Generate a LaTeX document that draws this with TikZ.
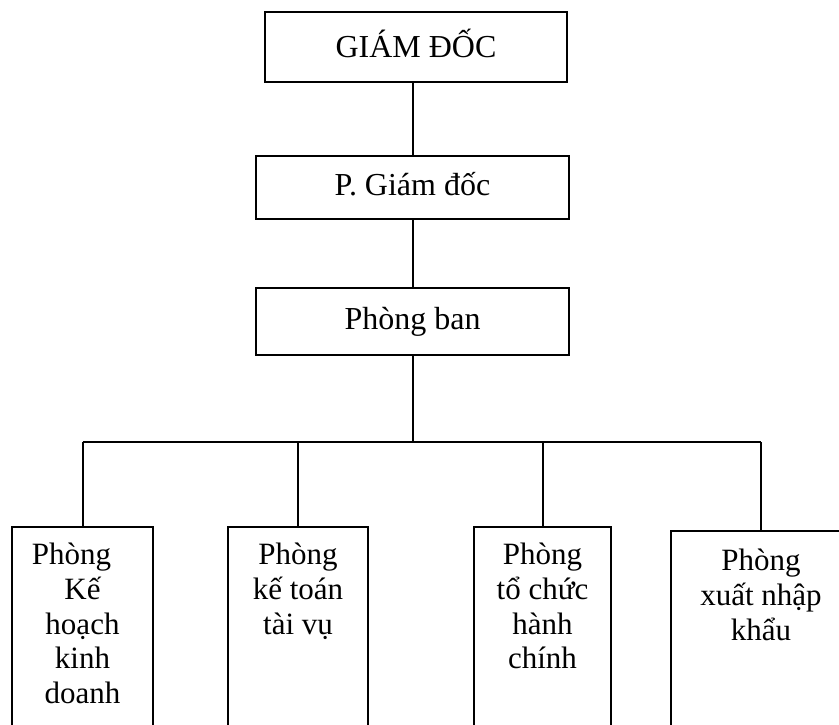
\documentclass[tikz,border=0pt]{standalone}
\usepackage{fontspec}
\setmainfont{Liberation Serif}
\usetikzlibrary{positioning}
\tikzset{
  box/.style={draw,line width=1pt,inner sep=0pt},
  head/.style={box,font=\fontsize{16}{19}\selectfont,text height=10pt,text depth=2pt},
  dept/.style={box,anchor=north,minimum height=110pt},
  lbl/.style={align=center,inner sep=0pt,font=\fontsize{15.5}{17.3}\selectfont},
  link/.style={line width=1pt}
}
\begin{document}
\begin{tikzpicture}[x=0.5pt,y=-0.5pt]
  \useasboundingbox (0,0) rectangle (839,724);
  % Management chain
  \node[head,text height=11pt,text depth=1pt,
        minimum width=151pt,minimum height=35pt] (gd) at (416,47) {GIÁM ĐỐC};
  \node[head,minimum width=156.5pt,minimum height=31.5pt] (pgd) at (412.5,187.5) {P. Giám đốc};
  \node[head,minimum width=156.5pt,minimum height=33.5pt] (pb) at (412.5,321.5) {Phòng ban};
  \draw[link] (gd.south -| pgd.north) -- (pgd.north);
  \draw[link] (pgd.south) -- (pb.north);
  % Department boxes (bottoms run off the page)
  \node[dept,minimum width=70.5pt] (d1) at (82.5,526) {};
  \node[dept,minimum width=70pt] (d2) at (298,526) {};
  \node[dept,minimum width=68.5pt] (d3) at (542.5,526) {};
  \node[dept,minimum width=90pt] (d4) at (761,530) {};
  % Department names
  \node[lbl,below=8.5pt of d1.north] (t1) {Phòng\hspace*{11pt}\\Kế\\hoạch\\kinh\\doanh};
  \node[lbl,below=8.5pt of d2.north] (t2) {Phòng\\kế toán\\tài vụ};
  \node[lbl,below=8.5pt of d3.north] (t3) {Phòng\\tổ chức\\hành\\chính};
  \node[lbl,below=9.5pt of d4.north] (t4) {Phòng\\xuất nhập\\khẩu};
  % Bus line
  \coordinate (bus) at (412.5,442);
  \draw[link] (pb.south) -- (bus);
  \draw[line width=1.1pt] (bus -| d1.north) -- (bus -| d4.north);
  \foreach \d in {d1,d2,d3,d4} {
    \draw[link] (bus -| \d.north) -- (\d.north);
  }
\end{tikzpicture}
\end{document}
